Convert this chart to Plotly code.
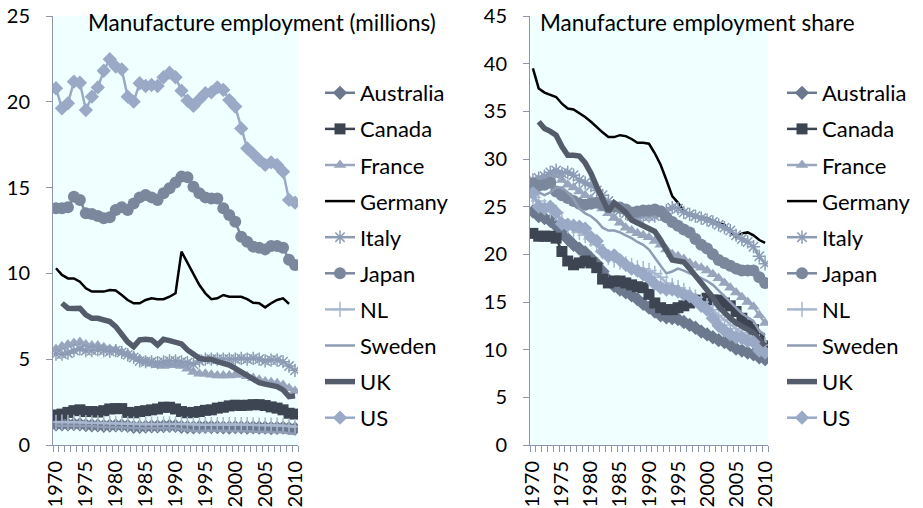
import plotly.graph_objects as go

years = list(range(1970, 2011))
countries = ["Australia", "Canada", "France", "Germany", "Italy", "Japan", "NL", "Sweden", "UK", "US"]

# Manufacture employment (millions)
emp_australia = [1.20, 1.21, 1.20, 1.22, 1.21, 1.16, 1.15, 1.14, 1.12, 1.13, 1.14, 1.14, 1.11, 1.06, 1.06, 1.07, 1.08, 1.08, 1.10, 1.12, 1.11, 1.06, 1.04, 1.03, 1.05, 1.06, 1.05, 1.04, 1.03, 1.02, 1.04, 1.03, 1.02, 1.03, 1.02, 1.01, 0.99, 1.00, 1.01, 0.98, 0.96]
emp_canada = [1.75, 1.80, 1.90, 2.00, 2.05, 1.95, 1.95, 1.92, 2.00, 2.10, 2.12, 2.12, 1.90, 1.88, 1.95, 2.00, 2.05, 2.10, 2.20, 2.20, 2.10, 1.95, 1.88, 1.90, 1.95, 2.02, 2.05, 2.15, 2.20, 2.28, 2.32, 2.30, 2.32, 2.35, 2.35, 2.30, 2.22, 2.15, 2.05, 1.85, 1.80]
emp_france = [5.60, 5.75, 5.85, 5.95, 6.00, 5.85, 5.80, 5.80, 5.70, 5.60, 5.55, 5.40, 5.30, 5.15, 5.00, 4.85, 4.75, 4.65, 4.60, 4.65, 4.65, 4.60, 4.45, 4.25, 4.15, 4.15, 4.10, 4.05, 4.05, 4.05, 4.10, 4.10, 4.00, 3.90, 3.80, 3.70, 3.65, 3.60, 3.50, 3.30, 3.15]
emp_germany = [10.30, 9.91, 9.71, 9.71, 9.52, 9.13, 8.94, 8.94, 8.94, 9.03, 9.00, 8.74, 8.45, 8.26, 8.26, 8.45, 8.55, 8.50, 8.50, 8.64, 8.84, 11.27, 10.59, 9.91, 9.32, 8.84, 8.50, 8.55, 8.74, 8.64, 8.64, 8.64, 8.50, 8.29, 8.26, 8.02, 8.26, 8.45, 8.55, 8.22, None]
emp_italy = [5.30, 5.30, 5.35, 5.50, 5.60, 5.50, 5.50, 5.55, 5.50, 5.45, 5.50, 5.40, 5.25, 5.10, 4.90, 4.85, 4.85, 4.80, 4.85, 4.90, 4.90, 4.85, 4.80, 4.70, 4.90, 5.00, 5.00, 5.00, 5.00, 5.00, 5.00, 5.05, 5.00, 5.05, 5.00, 4.90, 4.95, 4.95, 4.85, 4.60, 4.35]
emp_japan = [13.79, 13.79, 13.85, 14.47, 14.28, 13.50, 13.46, 13.35, 13.21, 13.27, 13.69, 13.85, 13.69, 14.08, 14.43, 14.57, 14.43, 14.28, 14.67, 14.96, 15.29, 15.64, 15.60, 15.05, 14.67, 14.43, 14.37, 14.37, 13.79, 13.40, 13.01, 12.14, 11.85, 11.56, 11.50, 11.40, 11.60, 11.60, 11.50, 10.80, 10.49]
emp_nl = [1.32, 1.33, 1.32, 1.31, 1.32, 1.30, 1.29, 1.28, 1.27, 1.26, 1.26, 1.25, 1.23, 1.21, 1.20, 1.20, 1.21, 1.21, 1.22, 1.23, 1.23, 1.22, 1.21, 1.19, 1.18, 1.18, 1.18, 1.19, 1.19, 1.19, 1.19, 1.19, 1.18, 1.17, 1.16, 1.15, 1.15, 1.15, 1.14, 1.10, 1.07]
emp_sweden = [1.12, 1.12, 1.11, 1.12, 1.13, 1.12, 1.10, 1.07, 1.04, 1.03, 1.03, 1.01, 0.98, 0.97, 0.97, 0.98, 0.98, 0.98, 0.98, 0.98, 0.97, 0.92, 0.86, 0.81, 0.82, 0.84, 0.84, 0.83, 0.83, 0.83, 0.84, 0.83, 0.80, 0.78, 0.77, 0.76, 0.76, 0.76, 0.74, 0.67, 0.64]
emp_uk = [None, 8.26, 7.97, 7.95, 7.97, 7.58, 7.38, 7.38, 7.30, 7.19, 6.90, 6.40, 6.00, 5.73, 6.12, 6.16, 6.12, 5.83, 6.16, 6.08, 6.02, 5.89, 5.54, 5.30, 5.05, 4.99, 4.99, 4.86, 4.76, 4.66, 4.47, 4.27, 4.08, 3.79, 3.63, 3.55, 3.50, 3.40, 3.21, 2.82, 2.87]
emp_us = [20.79, 19.62, 19.91, 21.17, 21.11, 19.52, 20.30, 20.84, 21.81, 22.48, 22.05, 21.89, 20.30, 20.01, 21.08, 20.92, 20.98, 20.92, 21.43, 21.70, 21.43, 20.65, 20.07, 19.76, 20.14, 20.50, 20.55, 20.84, 20.69, 20.10, 19.72, 18.45, 17.29, 16.96, 16.61, 16.32, 16.47, 16.32, 15.93, 14.28, 14.12]

# Manufacture employment share (%)
sh_australia = [24.5, 24.0, 23.8, 23.5, 23.0, 22.2, 21.6, 21.0, 20.6, 20.2, 19.6, 19.0, 18.2, 17.3, 16.7, 16.3, 16.0, 15.7, 15.3, 14.8, 14.4, 14.0, 13.6, 13.4, 13.3, 13.2, 12.9, 12.6, 12.3, 11.9, 11.6, 11.3, 11.0, 10.8, 10.5, 10.1, 9.9, 9.7, 9.5, 9.2, 9.0]
sh_canada = [22.2, 21.9, 21.9, 21.9, 21.7, 20.3, 19.3, 18.9, 19.1, 19.3, 19.1, 18.6, 17.4, 17.0, 17.2, 17.2, 17.0, 16.8, 16.6, 16.5, 15.8, 14.9, 14.4, 14.2, 14.2, 14.4, 14.6, 14.9, 15.1, 15.2, 15.4, 15.2, 15.2, 14.9, 14.6, 14.0, 13.3, 12.6, 12.1, 11.2, 10.4]
sh_france = [27.3, 27.6, 27.9, 28.1, 28.3, 27.8, 27.3, 27.0, 26.6, 26.2, 25.8, 25.3, 24.8, 24.3, 23.8, 23.3, 22.8, 22.5, 22.2, 22.0, 21.8, 21.4, 21.0, 20.5, 20.0, 19.8, 19.5, 19.1, 18.8, 18.6, 18.3, 17.9, 17.5, 17.0, 16.5, 16.0, 15.5, 15.0, 14.5, 13.6, 12.8]
sh_germany = [39.5, 37.4, 36.97, 36.7, 36.5, 35.8, 35.3, 35.2, 34.8, 34.4, 33.9, 33.3, 32.8, 32.3, 32.3, 32.5, 32.4, 32.1, 31.7, 31.7, 31.6, 30.6, 29.4, 27.8, 26.1, 25.4, 24.5, 24.2, 24.1, 23.8, 23.8, 23.5, 23.3, 23.1, 22.4, 21.8, 22.2, 22.3, 22.0, 21.5, 21.2]
sh_italy = [27.8, 28.0, 28.2, 28.6, 28.8, 28.5, 28.6, 28.3, 27.8, 27.5, 27.2, 26.7, 26.2, 25.6, 25.0, 24.6, 24.3, 24.0, 23.9, 24.0, 24.0, 24.0, 24.2, 24.6, 24.9, 24.8, 24.4, 24.2, 24.0, 23.8, 23.6, 23.4, 23.1, 22.8, 22.5, 22.0, 21.6, 21.3, 20.8, 19.8, 19.0]
sh_japan = [27.4, 27.2, 27.3, 27.5, 26.6, 26.2, 25.9, 25.6, 25.3, 25.2, 25.3, 25.4, 25.2, 25.0, 25.0, 24.9, 24.7, 24.4, 24.5, 24.6, 24.6, 24.7, 24.5, 23.9, 23.4, 23.0, 22.6, 22.3, 21.6, 21.0, 20.6, 20.0, 19.4, 19.1, 18.8, 18.5, 18.3, 18.3, 18.3, 17.6, 17.0]
sh_nl = [26.0, 25.6, 25.0, 24.6, 24.4, 23.6, 23.0, 22.6, 22.3, 22.0, 21.6, 21.0, 20.3, 19.7, 19.4, 19.2, 19.0, 18.8, 18.6, 18.5, 18.3, 18.0, 17.6, 17.0, 16.7, 16.5, 16.2, 15.8, 15.5, 15.0, 14.6, 14.2, 13.6, 13.1, 12.6, 12.2, 11.8, 11.5, 11.2, 10.8, 10.5]
sh_sweden = [27.0, 26.5, 26.2, 26.5, 27.0, 27.0, 26.5, 25.8, 24.8, 24.3, 24.0, 23.5, 22.8, 22.5, 22.5, 22.3, 22.0, 21.7, 21.3, 21.0, 20.5, 19.6, 18.8, 18.0, 18.2, 18.5, 18.3, 18.0, 17.8, 17.5, 17.2, 16.8, 16.2, 15.6, 15.0, 14.4, 13.8, 13.4, 13.0, 12.0, 11.5]
sh_uk = [None, 33.9, 33.2, 32.9, 32.5, 31.3, 30.4, 30.4, 30.3, 29.6, 28.5, 27.1, 25.7, 24.5, 25.4, 24.9, 24.4, 23.6, 23.3, 22.9, 22.6, 22.4, 21.5, 20.3, 19.4, 19.3, 19.2, 18.5, 17.8, 17.0, 16.3, 15.5, 14.5, 13.8, 13.3, 12.8, 12.5, 12.2, 11.8, 11.0, 10.4]
sh_us = [26.4, 25.0, 24.8, 25.0, 24.4, 23.2, 23.1, 23.0, 22.9, 22.7, 21.8, 21.4, 20.3, 19.8, 19.9, 19.4, 18.9, 18.5, 18.3, 17.9, 17.5, 16.9, 16.5, 16.3, 16.3, 16.1, 15.8, 15.6, 15.2, 14.6, 14.2, 13.3, 12.5, 12.0, 11.6, 11.3, 11.2, 10.9, 10.8, 9.9, 9.7]

left_title = "Manufacture employment (millions)"
right_title = "Manufacture employment share"
year_ticks = [1970, 1975, 1980, 1985, 1990, 1995, 2000, 2005, 2010]

emp_data = [emp_australia, emp_canada, emp_france, emp_germany, emp_italy, emp_japan, emp_nl, emp_sweden, emp_uk, emp_us]
sh_data = [sh_australia, sh_canada, sh_france, sh_germany, sh_italy, sh_japan, sh_nl, sh_sweden, sh_uk, sh_us]

styles = {
    "Australia": dict(color="#6B788D", symbol="diamond", size=11, width=2.5, mode="lines+markers"),
    "Canada": dict(color="#3D4452", symbol="square", size=11, width=2.5, mode="lines+markers"),
    "France": dict(color="#99A5BD", symbol="triangle-up", size=11, width=2.5, mode="lines+markers"),
    "Germany": dict(color="#000000", symbol=None, size=0, width=2.5, mode="lines"),
    "Italy": dict(color="#8D9BB5", symbol="asterisk-open", size=11, width=2.5, mode="lines+markers"),
    "Japan": dict(color="#7B879C", symbol="circle", size=12, width=2.5, mode="lines+markers"),
    "NL": dict(color="#A9B7CF", symbol="cross-thin-open", size=11, width=2.5, mode="lines+markers"),
    "Sweden": dict(color="#8F9CB4", symbol=None, size=0, width=2.5, mode="lines"),
    "UK": dict(color="#545C6B", symbol=None, size=0, width=5.5, mode="lines"),
    "US": dict(color="#99A9C6", symbol="diamond", size=11, width=2.5, mode="lines+markers"),
}

FONT = "Lato"
fig = go.Figure()

for side, datasets, xa, ya, lg in [("L", emp_data, "x", "y", "legend"), ("R", sh_data, "x2", "y2", "legend2")]:
    for name, vals in zip(countries, datasets):
        s = styles[name]
        kw = dict(x=years, y=vals, name=name, mode=s["mode"], xaxis=xa, yaxis=ya, legend=lg,
                  legendgroup=side + name,
                  line=dict(color=s["color"], width=s["width"]))
        if s["symbol"]:
            mk = dict(symbol=s["symbol"], size=s["size"], color=s["color"])
            if s["symbol"].endswith("open"):
                mk["line"] = dict(color=s["color"], width=1.5)
            kw["marker"] = mk
        fig.add_trace(go.Scatter(**kw))

W, H = 923, 508
axis_color = "#8C96AB"
xcommon = dict(range=[1969.5, 2010.5], tickvals=year_ticks, ticktext=[str(y) for y in year_ticks],
               tickangle=-90, ticks="", showline=True, linecolor=axis_color, linewidth=1,
               showgrid=False, zeroline=False, automargin=False, ticklabelstandoff=7,
               tickfont=dict(family=FONT, size=20, color="#000"),
               minor=dict(ticks="outside", tick0=1969.5, dtick=1, ticklen=6, tickcolor=axis_color, showgrid=False))
ycommon = dict(ticks="outside", ticklen=6, tickcolor=axis_color, showline=True, linecolor=axis_color,
               linewidth=1, showgrid=False, zeroline=False, dtick=5, automargin=False, ticklabelstandoff=12,
               tickfont=dict(family=FONT, size=20, color="#000"))

legend_common = dict(xanchor="left", yanchor="top", bgcolor="rgba(0,0,0,0)",
                     font=dict(family=FONT, size=22), tracegroupgap=4.5, itemwidth=30)

top, bottom = 16, 445
fig.update_layout(
    width=W, height=H, margin=dict(l=0, r=0, t=0, b=0, autoexpand=False),
    paper_bgcolor="white", plot_bgcolor="#F0FFFF",
    font=dict(family=FONT, color="#000"),
    xaxis=dict(domain=[53 / W, 298 / W], anchor="y", **xcommon),
    yaxis=dict(domain=[1 - bottom / H, 1 - top / H], range=[0, 25], anchor="x", **ycommon),
    xaxis2=dict(domain=[530 / W, 768 / W], anchor="y2", **xcommon),
    yaxis2=dict(domain=[1 - bottom / H, 1 - top / H], range=[0, 45], anchor="x2", **ycommon),
    legend=dict(x=320 / W, y=1 - 72 / H, **legend_common),
    legend2=dict(x=782 / W, y=1 - 72 / H, **legend_common),
    annotations=[
        dict(text=left_title, x=262 / W, y=1 - 22 / H, xref="paper", yref="paper", showarrow=False,
             xanchor="center", yanchor="middle", font=dict(family=FONT, size=22.5, color="#000")),
        dict(text=right_title, x=697 / W, y=1 - 22 / H, xref="paper", yref="paper", showarrow=False,
             xanchor="center", yanchor="middle", font=dict(family=FONT, size=22.5, color="#000")),
    ],
)

# remove the browser's default 8px body margin so the figure sits at the page origin
fig.write_html("out.html", config={"displayModeBar": False},
               post_script="document.body.style.margin='0';document.body.style.overflow='hidden';")
